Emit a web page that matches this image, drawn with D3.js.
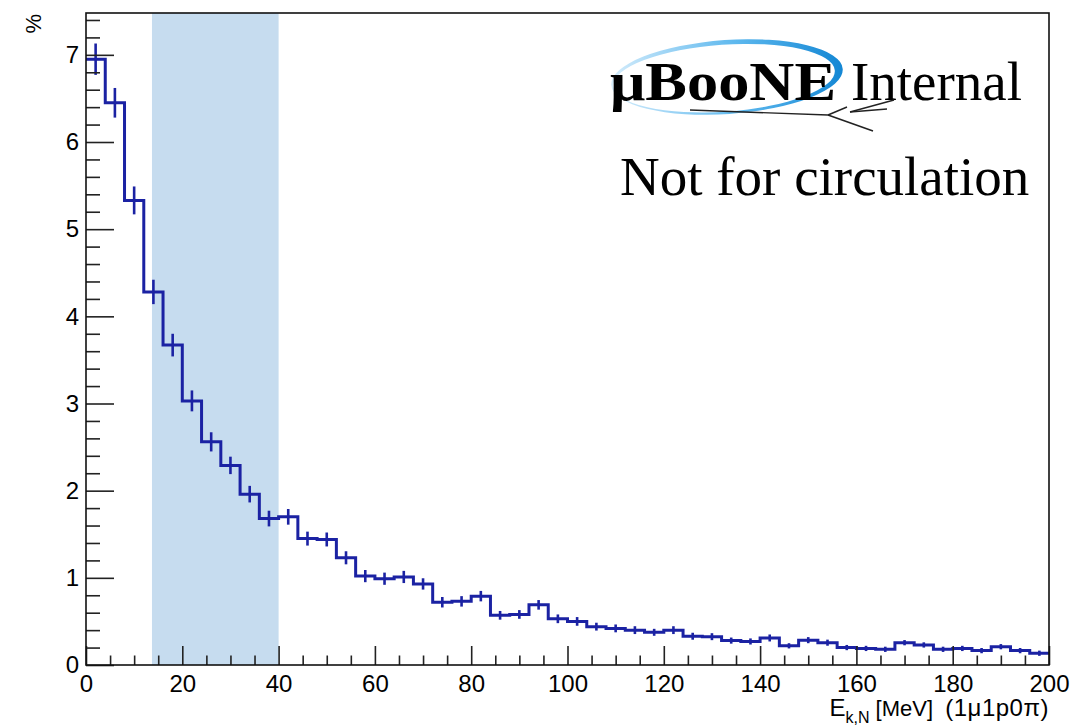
<!DOCTYPE html>
<html>
<head>
<meta charset="utf-8">
<script src="https://cdn.jsdelivr.net/npm/d3@7"></script>
<style>
	body { margin: 0; background: #fff; }
	#vis-pane text { font-family: "Liberation Sans", Arial, sans-serif; fill: #000; }
	#vis-pane .serif { font-family: "Liberation Serif", "Times New Roman", serif; }
</style>
</head>
<body>
<div id="vis-pane"><svg width="1082" height="727"></svg></div>
<script>
// histogram contents (bin width 4 MeV)
var binLowEdges = [0, 4, 8, 12, 16, 20, 24, 28, 32, 36,
	40, 44, 48, 52, 56, 60, 64, 68, 72, 76,
	80, 84, 88, 92, 96, 100, 104, 108, 112, 116,
	120, 124, 128, 132, 136, 140, 144, 148, 152, 156,
	160, 164, 168, 172, 176, 180, 184, 188, 192, 196];
var percentValues = [6.95, 6.45, 5.33, 4.28, 3.67, 3.03, 2.56, 2.29, 1.96, 1.68,
	1.70, 1.45, 1.44, 1.23, 1.02, 0.99, 1.01, 0.93, 0.72, 0.73,
	0.79, 0.57, 0.58, 0.69, 0.53, 0.50, 0.44, 0.42, 0.40, 0.375,
	0.40, 0.33, 0.325, 0.28, 0.27, 0.31, 0.22, 0.285, 0.256, 0.20,
	0.19, 0.18, 0.256, 0.23, 0.18, 0.19, 0.165, 0.21, 0.165, 0.135];
var percentErrors = [0.18, 0.17, 0.16, 0.14, 0.13, 0.12, 0.11, 0.10, 0.095, 0.09,
	0.09, 0.08, 0.08, 0.075, 0.07, 0.07, 0.07, 0.065, 0.06, 0.06,
	0.06, 0.05, 0.05, 0.055, 0.05, 0.05, 0.045, 0.045, 0.045, 0.04,
	0.045, 0.04, 0.04, 0.035, 0.035, 0.04, 0.03, 0.035, 0.035, 0.03,
	0.03, 0.03, 0.03, 0.03, 0.03, 0.03, 0.03, 0.03, 0.03, 0.03];
var binUpperEdge = 200;
var cutRange = [13.7, 40];
var xTickLabels = [0, 20, 40, 60, 80, 100, 120, 140, 160, 180, 200];
var yTickLabels = [0, 1, 2, 3, 4, 5, 6, 7];

const HistogramPane = {
	frame: { left: 86, top: 13, right: 1049, bottom: 665 },
	xDomain: [0, 200],
	yDomain: [0, 7.48],
	xTickLength: 19,
	yTickLength: 28,
	lineColor: '#1b22a3',
	bandColor: '#c6dcef',

	xScale: null,
	yScale: null,

	init: function() {
		const self = this;
		var frame = self.frame;

		self.xScale = d3.scaleLinear()
			.domain(self.xDomain)
			.range([ frame.left, frame.right ]);
		self.yScale = d3.scaleLinear()
			.domain(self.yDomain)
			.range([ frame.bottom, frame.top ]);
	},
	update: function() {
		HistogramPane.init();
		HistogramPane.drawBand();
		HistogramPane.drawHistogram();
		HistogramPane.drawErrors();
		HistogramPane.drawAxes();
		HistogramPane.drawFrame();
		HistogramPane.drawTitles();
		HistogramPane.drawLogo();
	},

	// marks

	drawBand: function() {
		const self = this;
		var svg = d3.select('#vis-pane > svg');
		var x = self.xScale, y = self.yScale;

		svg.append('rect')
			.attr('class', 'band')
			.attr('x', x(cutRange[0]))
			.attr('y', y(self.yDomain[1]))
			.attr('width', x(cutRange[1]) - x(cutRange[0]))
			.attr('height', y(0) - y(self.yDomain[1]))
			.style('fill', self.bandColor);
	},
	drawHistogram: function() {
		const self = this;
		var svg = d3.select('#vis-pane > svg');
		var x = self.xScale, y = self.yScale;
		var points = binLowEdges.map(function(d, i) { return [ d, percentValues[i] ] });

		// close the last bin at its upper edge
		points.push([ binUpperEdge, percentValues[percentValues.length - 1] ]);

		var line = d3.line()
			.x(function(d) { return x(d[0]) })
			.y(function(d) { return y(d[1]) })
			.curve(d3.curveStepAfter);

		svg.append('path')
			.attr('class', 'histogram')
			.attr('d', line(points))
			.style('fill', 'none')
			.style('stroke', self.lineColor)
			.style('stroke-width', 3)
			.style('stroke-linejoin', 'miter');
	},
	drawErrors: function() {
		const self = this;
		var svg = d3.select('#vis-pane > svg');
		var x = self.xScale, y = self.yScale;

		svg.append('g')
			.attr('class', 'errors')
			.selectAll('line')
			.data(binLowEdges)
			.enter()
			.append('line')
			.attr('x1', function(d, i) {
				var high = i + 1 < binLowEdges.length ? binLowEdges[i + 1] : binUpperEdge;
				return x((d + high) / 2);
			})
			.attr('x2', function(d, i) {
				var high = i + 1 < binLowEdges.length ? binLowEdges[i + 1] : binUpperEdge;
				return x((d + high) / 2);
			})
			.attr('y1', function(d, i) { return y(percentValues[i] - percentErrors[i]) })
			.attr('y2', function(d, i) { return y(percentValues[i] + percentErrors[i]) })
			.style('stroke', self.lineColor)
			.style('stroke-width', 2.6);
	},

	// axes

	drawAxes: function() {
		const self = this;
		var svg = d3.select('#vis-pane > svg');
		var x = self.xScale, y = self.yScale;
		var frame = self.frame;

		var xMinor = x.ticks(40).filter(function(t) { return xTickLabels.indexOf(t) == -1 });
		var yMinor = y.ticks(37).filter(function(t) { return Math.abs(t - Math.round(t)) > 1e-6 });

		var xMinorAxis = svg.append('g')
			.attr('transform', 'translate(0,' + frame.bottom + ')')
			.call(d3.axisBottom(x).tickValues(xMinor).tickSize(-self.xTickLength / 2).tickFormat(''));
		var xMajorAxis = svg.append('g')
			.attr('transform', 'translate(0,' + frame.bottom + ')')
			.call(d3.axisBottom(x).tickValues(xTickLabels).tickSizeInner(-self.xTickLength)
				.tickSizeOuter(0).tickPadding(10).tickFormat(d3.format('d')));
		var yMinorAxis = svg.append('g')
			.attr('transform', 'translate(' + frame.left + ',0)')
			.call(d3.axisLeft(y).tickValues(yMinor).tickSize(-self.yTickLength / 2).tickFormat(''));
		var yMajorAxis = svg.append('g')
			.attr('transform', 'translate(' + frame.left + ',0)')
			.call(d3.axisLeft(y).tickValues(yTickLabels).tickSizeInner(-self.yTickLength)
				.tickSizeOuter(0).tickPadding(7).tickFormat(d3.format('d')));

		[ xMinorAxis, xMajorAxis, yMinorAxis, yMajorAxis ].forEach(function(axis) {
			axis.select('.domain').remove();
			axis.selectAll('.tick line').style('stroke', '#222').style('stroke-width', 1.6);
			axis.selectAll('.tick text').style('font-size', '24px');
		});
	},
	drawFrame: function() {
		const self = this;
		var svg = d3.select('#vis-pane > svg');
		var frame = self.frame;

		svg.append('rect')
			.attr('class', 'frame')
			.attr('x', frame.left)
			.attr('y', frame.top)
			.attr('width', frame.right - frame.left)
			.attr('height', frame.bottom - frame.top)
			.style('fill', 'none')
			.style('stroke', '#111')
			.style('stroke-width', 1.6);
	},
	drawTitles: function() {
		const self = this;
		var svg = d3.select('#vis-pane > svg');
		var frame = self.frame;

		svg.append('text')
			.attr('transform', 'translate(41,' + (frame.top + 1) + ') rotate(-90)')
			.attr('text-anchor', 'end')
			.style('font-size', '22px')
			.text('%');

		var title = svg.append('text')
			.attr('x', frame.right)
			.attr('y', 716)
			.attr('text-anchor', 'end')
			.style('white-space', 'pre')
			.style('font-size', '24px');
		title.append('tspan').text('E');
		title.append('tspan').attr('dy', 7).style('font-size', '16px').text('k,N');
		title.append('tspan').attr('dy', -7).style('font-size', '22px').text(' [MeV]  ');
		title.append('tspan').style('font-size', '24px').style('letter-spacing', '0.5px').text('(1\u03bc1p0\u03c0)');
	},

	// logo

	drawLogo: function() {
		const self = this;
		var svg = d3.select('#vis-pane > svg');
		var logo = svg.append('g').attr('class', 'logo');

		var grad = svg.append('defs').append('linearGradient')
			.attr('id', 'swoosh')
			.attr('x1', '0%').attr('x2', '100%')
			.attr('y1', '0%').attr('y2', '0%');
		grad.append('stop').attr('offset', '0%').attr('stop-color', '#d4ecfb');
		grad.append('stop').attr('offset', '55%').attr('stop-color', '#5db8ee');
		grad.append('stop').attr('offset', '100%').attr('stop-color', '#1487d4');

		// crescent: outer ellipse minus a shifted inner one
		var outer = 'M 611,77 a 116,37 0 1,0 232,0 a 116,37 0 1,0 -232,0 Z';
		var inner = 'M 613,78 a 111,33.5 0 1,0 222,0 a 111,33.5 0 1,0 -222,0 Z';
		logo.append('path')
			.attr('d', outer + ' ' + inner)
			.attr('fill-rule', 'evenodd')
			.attr('transform', 'rotate(-4 727 77)')
			.style('fill', 'url(#swoosh)');

		logo.append('text')
			.attr('class', 'serif')
			.attr('x', 610)
			.attr('y', 100)
			.attr('textLength', 226)
			.attr('lengthAdjust', 'spacingAndGlyphs')
			.style('font-size', '54px')
			.style('font-weight', 'bold')
			.text('\u03bcBooNE');
		logo.append('text')
			.attr('class', 'serif')
			.attr('x', 851)
			.attr('y', 100)
			.style('font-size', '55px')
			.text('Internal');

		// neutrino track sketch under the logo
		var tracks = [
			[[690, 110], [828, 115]],
			[[828, 115], [873, 131]],
			[[828, 115], [847, 107]],
			[[850, 112], [894, 100]],
			[[850, 112], [887, 109]]
		];
		logo.selectAll('.track')
			.data(tracks)
			.enter()
			.append('path')
			.attr('class', 'track')
			.attr('d', function(d) { return d3.line()(d) })
			.style('stroke', '#222')
			.style('stroke-width', 1.4)
			.style('fill', 'none');

		svg.append('text')
			.attr('class', 'serif')
			.attr('x', 620)
			.attr('y', 195)
			.style('font-size', '55px')
			.text('Not for circulation');
	}
}

HistogramPane.update();
</script>
</body>
</html>
